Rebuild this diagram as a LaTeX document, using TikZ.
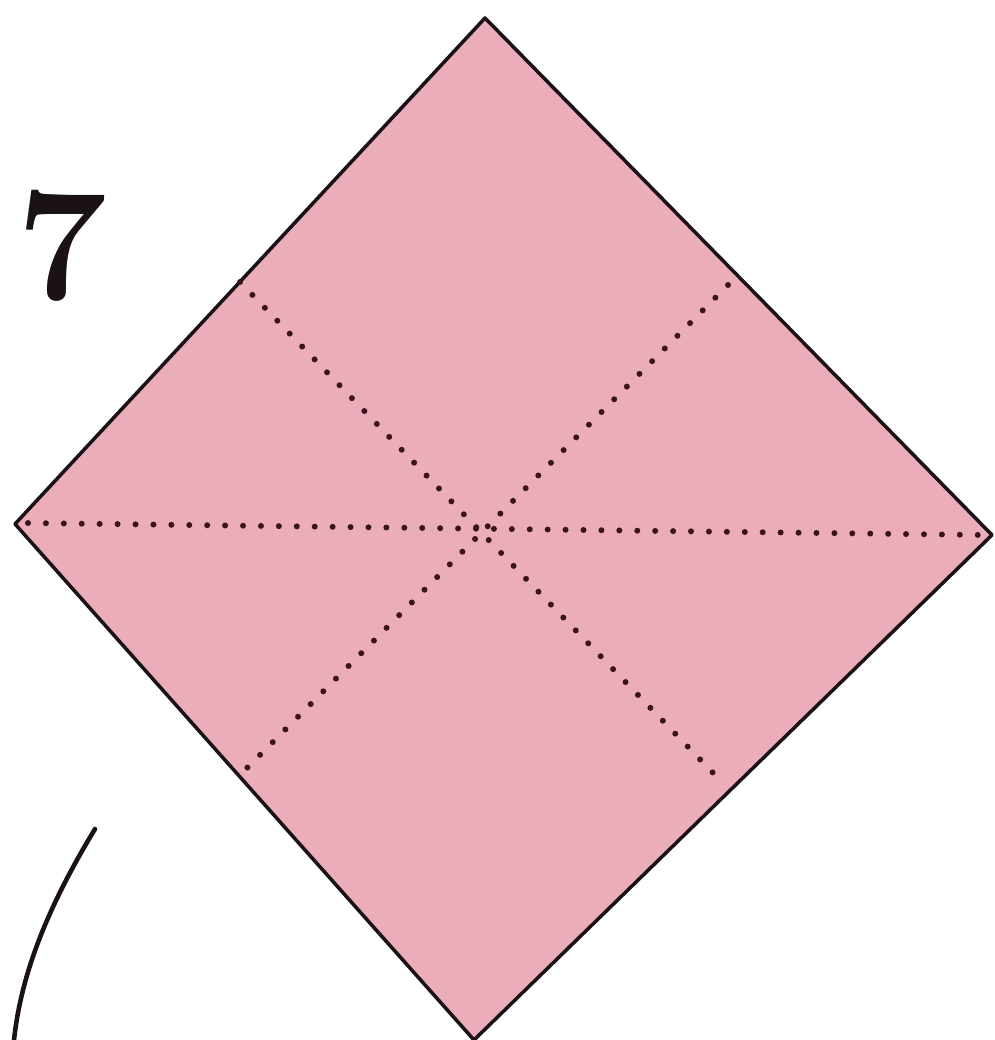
\documentclass[tikz,border=0pt]{standalone}
\usepackage{tikz}
\usetikzlibrary{calc}
\definecolor{rosa}{HTML}{EBADBA}
\definecolor{tinta}{HTML}{1A1214}
\definecolor{punto}{HTML}{3A141C}

\begin{document}
\begin{tikzpicture}[x=0.02cm,y=-0.02cm,
          line join=round,
          hoja/.style={fill=rosa,draw=tinta,line width=2pt},
          pliegue/.style={punto,line width=3.4pt,line cap=round,
                          dash pattern=on 0pt off 10.2pt},
          flecha/.style={tinta,line width=2.6pt,line cap=round},
          numero/.style={tinta,font=\fontsize{92}{92}\bfseries\selectfont,inner sep=0pt}]
        \useasboundingbox (0,0) rectangle (994,1040);
        % esquinas de la hoja
        \coordinate (arriba) at (485,18);
        \coordinate (izq) at (15,524);
        \coordinate (der) at (992,535);
        \coordinate (abajo) at (474,1040);
        \draw[hoja] (arriba) -- (der) -- (abajo) -- (izq) -- cycle;
        % pliegues marcados
        \coordinate (p1) at (240,282);
        \coordinate (p2) at (718,778);
        \coordinate (p3) at (728,285);
        \coordinate (p4) at (243,772);
        \draw[pliegue] (28,523) -- (982,535);
        \draw[pliegue] (p1) -- (p2);
        \draw[pliegue] (p3) -- (p4);
        % paso
        \node[numero,anchor=south west] (paso) at (16,302) {7};
        % trazo curvo
        \coordinate (c1) at (95,829);
        \coordinate (c2) at (14,1040);
        \draw[flecha] (c1) .. controls (55,895) and (22,965) .. (c2);
      \end{tikzpicture}
\end{document}
